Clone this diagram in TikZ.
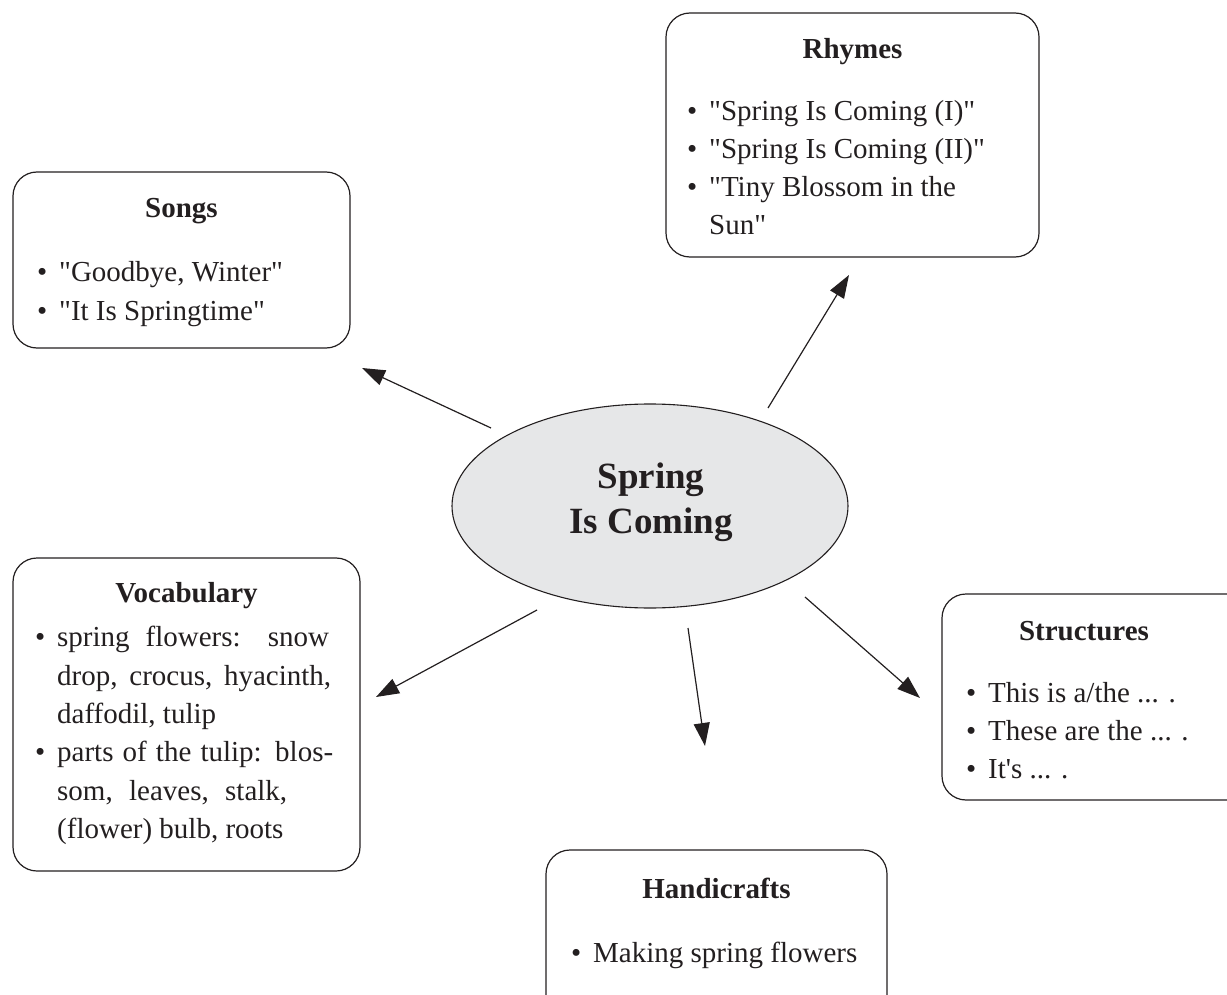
\documentclass[tikz,border=0pt]{standalone}
\usepackage{fontspec}
\setmainfont{Liberation Serif}
\usetikzlibrary{arrows.meta,shapes.geometric}
\definecolor{ink}{HTML}{231F20}
\definecolor{fillg}{HTML}{E6E7E8}
\tikzset{
  box/.style={draw=ink, line width=1.2pt, rounded corners=24pt, inner sep=0pt},
  ttl/.style={font=\fontsize{29}{35}\selectfont\bfseries, text=ink, anchor=base, inner sep=0pt},
  itm/.style={font=\fontsize{29}{35}\selectfont, text=ink, anchor=base west, inner sep=0pt},
  hub/.style={ellipse, draw=ink, line width=1.1pt, fill=fillg, inner sep=0pt},
  hubtxt/.style={font=\fontsize{37}{44}\selectfont\bfseries, text=ink, anchor=base, inner sep=0pt},
  arr/.style={draw=ink, line width=1.2pt, -{Triangle[length=23pt,width=16pt]}},
}
\newcommand{\bl}{\llap{\textbullet\hspace{12pt}}}
\newcommand{\qq}{\textquotedbl}
\begin{document}
\begin{tikzpicture}[x=1pt,y=-1pt]
\useasboundingbox (0,0) rectangle (1227,995);
\clip (0,0) rectangle (1227,995);

% hub
\node[hub, minimum width=396pt, minimum height=204pt] (hub) at (650,506) {};
\node[hubtxt] (hub1) at (651,488) {Spring};
\node[hubtxt] (hub2) at (651,533) {Is Coming};

% Songs
\node[box, minimum width=337pt, minimum height=176pt] (songs) at (181.5,260) {};
\node[ttl] (songsT) at (181.5,218) {Songs};
\node[itm] (songs1) at (59,282) {\bl\qq Goodbye, Winter\qq};
\node[itm] (songs2) at (59,320) {\bl\qq It Is Springtime\qq};

% Rhymes
\node[box, minimum width=373pt, minimum height=244pt] (rhymes) at (852.5,135) {};
\node[ttl] (rhymesT) at (852.5,59) {Rhymes};
\node[itm] (rhymes1) at (709,121) {\bl\qq Spring Is Coming (I)\qq};
\node[itm] (rhymes2) at (709,159) {\bl\qq Spring Is Coming (II)\qq};
\node[itm] (rhymes3) at (709,197) {\bl\qq Tiny Blossom in the};
\node[itm] (rhymes4) at (709,235) {Sun\qq};

% Vocabulary
\node[box, minimum width=347pt, minimum height=313pt] (vocab) at (186.5,714.5) {};
\node[ttl] (vocabT) at (186.5,602) {Vocabulary};
\node[itm] (vocab1) at (57,646) {\bl\makebox[272pt][s]{spring flowers: snow}};
\node[itm] (vocab2) at (57,685) {\makebox[274pt][s]{drop, crocus, hyacinth,}};
\node[itm] (vocab3) at (57,723) {daffodil, tulip};
\node[itm] (vocab4) at (57,761) {\bl\makebox[276pt][s]{parts of the tulip: blos-}};
\node[itm] (vocab5) at (57,800) {\makebox[230pt][s]{som, leaves, stalk,}};
\node[itm] (vocab6) at (57,838) {(flower) bulb, roots};

% Structures
\node[box, minimum width=318pt, minimum height=206pt] (struct) at (1101,697) {};
\node[ttl] (structT) at (1084,640) {Structures};
\node[itm] (struct1) at (988,702) {\bl This is a/the ... .};
\node[itm] (struct2) at (988,740) {\bl These are the ... .};
\node[itm] (struct3) at (988,778) {\bl It\textquotesingle s ... .};

% Handicrafts
\node[box, minimum width=341pt, minimum height=170pt] (handi) at (716.5,935) {};
\node[ttl] (handiT) at (716.5,898) {Handicrafts};
\node[itm] (handi1) at (593,962) {\bl Making spring flowers};

% connectors
\coordinate (aS) at (491,428); \coordinate (bS) at (362,368);
\coordinate (aR) at (768,408); \coordinate (bR) at (849,275);
\coordinate (aV) at (537,610); \coordinate (bV) at (376,697);
\coordinate (aH) at (688,628); \coordinate (bH) at (705,746);
\coordinate (aT) at (805,597); \coordinate (bT) at (920,698);
\draw[arr] (aS) -- (bS);
\draw[arr] (aR) -- (bR);
\draw[arr] (aV) -- (bV);
\draw[arr] (aH) -- (bH);
\draw[arr] (aT) -- (bT);
\end{tikzpicture}
\end{document}
